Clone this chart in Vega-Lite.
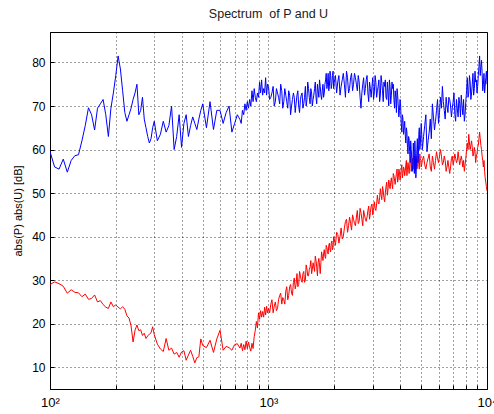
{
"$schema": "https://vega.github.io/schema/vega-lite/v6.json",
"width": 437, "height": 357,
"autosize": {"type": "none"},
"padding": {"left": 50, "top": 32, "right": 7, "bottom": 25},
"background": "white",
"title": {"text": "Spectrum\u00a0 of P and U", "fontSize": 12.5, "fontWeight": "normal", "color": "#1a1a1a", "font": "Liberation Sans", "offset": 12, "anchor": "middle"},
"config": {
 "view": {"stroke": "#000000", "strokeWidth": 1},
 "font": "Liberation Sans",
 "axis": {"domainColor": "#000000", "tickColor": "#000000", "labelColor": "#000000", "labelFont": "Liberation Sans", "labelFontSize": 12, "titleFont": "Liberation Sans", "titleFontSize": 11, "titleFontWeight": "normal", "titleColor": "#000000", "grid": true, "gridColor": "#000000", "gridOpacity": 0.75, "gridDash": [1, 3], "gridWidth": 1, "tickSize": -4, "labelPadding": 9}
},
"data": {"values": [
{"f":100,"P":59.5,"U":29},{"f":105,"P":56,"U":29.6},{"f":110,"P":55.5,"U":29.2},{"f":115,"P":57.8,"U":28.6},{"f":120,"P":54.8,"U":27},
{"f":125,"P":57.5,"U":27.8},{"f":130,"P":58.6,"U":27.2},{"f":135,"P":58.8,"U":27.1},{"f":140,"P":62,"U":26.2},{"f":145,"P":65.5,"U":26.8},
{"f":150,"P":69.6,"U":25.6},{"f":155,"P":68,"U":25.8},{"f":160,"P":64.5,"U":26.6},{"f":165,"P":69.5,"U":25},{"f":170,"P":70.5,"U":25.3},
{"f":175,"P":71.5,"U":24.4},{"f":180,"P":68,"U":23.8},{"f":185,"P":63,"U":23.5},{"f":190,"P":69.5,"U":25},{"f":195,"P":73,"U":23.9},
{"f":200,"P":77,"U":24.3},{"f":205,"P":81.5,"U":23.8},{"f":210,"P":78.5,"U":23.4},{"f":215,"P":73.5,"U":23.9},{"f":220,"P":68.5,"U":23.3},
{"f":225,"P":66.5,"U":21.8},{"f":230,"P":68,"U":21.3},{"f":235,"P":69.5,"U":19.5},{"f":240,"P":71.5,"U":15.8},{"f":245,"P":73,"U":18.5},
{"f":250,"P":75,"U":19.7},{"f":255,"P":68,"U":18.4},{"f":260,"P":69,"U":18.6},{"f":265,"P":72,"U":17.3},{"f":270,"P":67,"U":17.8},
{"f":275,"P":65,"U":16.6},{"f":280,"P":63,"U":17.2},{"f":285,"P":61.5,"U":17.6},{"f":290,"P":62.5,"U":17.9},{"f":295,"P":65,"U":19.3},
{"f":300,"P":66.5,"U":17.5},{"f":310,"P":62,"U":15.3},{"f":320,"P":63.5,"U":14.2},{"f":330,"P":66.5,"U":13.6},{"f":340,"P":64,"U":16.6},
{"f":350,"P":65.5,"U":13.9},{"f":360,"P":70,"U":14.4},{"f":370,"P":60,"U":13},{"f":380,"P":63,"U":13.4},{"f":390,"P":68,"U":12.3},
{"f":400,"P":60.5,"U":13.5},{"f":410,"P":66,"U":13.8},{"f":420,"P":68,"U":11.6},{"f":430,"P":63,"U":12.8},{"f":440,"P":65.5,"U":13.9},
{"f":450,"P":67.5,"U":12.5},{"f":460,"P":66,"U":11},{"f":470,"P":64.6,"U":12.2},{"f":480,"P":67,"U":12.4},{"f":490,"P":69,"U":16.5},
{"f":500,"P":70.5,"U":15},{"f":520,"P":65,"U":14.5},{"f":540,"P":71,"U":16.2},{"f":560,"P":64.6,"U":13.4},{"f":580,"P":69,"U":16.5},
{"f":600,"P":69,"U":18.5},{"f":620,"P":66,"U":13.9},{"f":640,"P":68.5,"U":14.8},{"f":660,"P":70,"U":14.5},{"f":680,"P":64,"U":13.9},
{"f":700,"P":66,"U":15.2},{"f":720,"P":68,"U":15.4},{"f":740,"P":66.9,"U":14.4},
{"f":750,"P":66,"U":15.5},{"f":760,"P":69,"U":13.8},{"f":770,"P":68,"U":15.2},{"f":780,"P":70.5,"U":14},{"f":790,"P":69,"U":16},
{"f":800,"P":71,"U":14.3},{"f":810,"P":69.5,"U":15.8},{"f":820,"P":71.5,"U":14.5},{"f":830,"P":70,"U":13.7},{"f":840,"P":73.5,"U":15.5},
{"f":850,"P":71,"U":14.3},{"f":860,"P":74,"U":17},{"f":870,"P":72,"U":18.5},{"f":880,"P":71,"U":20.5},{"f":890,"P":73,"U":19},
{"f":900,"P":72,"U":22.5},{"f":910,"P":75.5,"U":21},{"f":920,"P":73,"U":23},{"f":930,"P":76,"U":21.5},{"f":940,"P":72.5,"U":22.8},
{"f":950,"P":74,"U":21.5},{"f":960,"P":73,"U":23.8},{"f":970,"P":76.5,"U":22},{"f":980,"P":72.5,"U":24},{"f":990,"P":75,"U":22.5},
{"f":1000,"P":74.5,"U":23.5},
{"f":1025,"P":72,"U":24.5},{"f":1050,"P":74.5,"U":22.5},{"f":1075,"P":71,"U":25},{"f":1100,"P":73,"U":23.5},{"f":1125,"P":70.5,"U":26.5},
{"f":1150,"P":73.5,"U":24.5},{"f":1175,"P":71,"U":25.5},{"f":1200,"P":72.5,"U":27.5},{"f":1225,"P":69.5,"U":25.5},{"f":1250,"P":72.5,"U":28.5},
{"f":1275,"P":70,"U":27},{"f":1300,"P":73,"U":29.5},{"f":1325,"P":68.5,"U":28},{"f":1350,"P":72.5,"U":31.5},{"f":1375,"P":70,"U":29},
{"f":1400,"P":71.5,"U":31},{"f":1425,"P":73,"U":29.5},{"f":1450,"P":70.5,"U":32},{"f":1475,"P":74.5,"U":30},{"f":1500,"P":71.5,"U":32.5},
{"f":1525,"P":74,"U":31},{"f":1550,"P":70.5,"U":33},{"f":1575,"P":73,"U":31.5},{"f":1600,"P":71.5,"U":34},{"f":1625,"P":74,"U":32},
{"f":1650,"P":72,"U":34.5},{"f":1675,"P":75,"U":31},{"f":1700,"P":72,"U":35},{"f":1725,"P":74.5,"U":31.5},{"f":1750,"P":71.5,"U":36.5},
{"f":1775,"P":75,"U":34.5},{"f":1800,"P":73,"U":37},{"f":1825,"P":76,"U":35},{"f":1850,"P":74,"U":37.5},{"f":1875,"P":77.5,"U":36},
{"f":1900,"P":74.5,"U":38.5},{"f":1925,"P":77,"U":36.5},{"f":1950,"P":75,"U":39},{"f":1975,"P":78,"U":37.5},{"f":2000,"P":75.5,"U":39.5},
{"f":2050,"P":73,"U":41},{"f":2100,"P":77,"U":38.5},{"f":2150,"P":74.5,"U":42},{"f":2200,"P":77.5,"U":40},{"f":2250,"P":72,"U":43.5},
{"f":2300,"P":76.5,"U":41},{"f":2350,"P":74,"U":44.5},{"f":2400,"P":77.5,"U":41.5},{"f":2450,"P":75,"U":44},{"f":2500,"P":76.5,"U":42.5},
{"f":2550,"P":73.5,"U":46},{"f":2600,"P":75.5,"U":43.5},{"f":2650,"P":69.5,"U":45.5},{"f":2700,"P":75,"U":42.5},{"f":2750,"P":72.5,"U":45},
{"f":2800,"P":76,"U":43.5},{"f":2850,"P":73,"U":46},{"f":2900,"P":75.5,"U":44},{"f":2950,"P":72,"U":47},{"f":3000,"P":76.5,"U":45},
{"f":3050,"P":73,"U":48},{"f":3100,"P":75.5,"U":46},{"f":3150,"P":73.5,"U":49.5},{"f":3200,"P":76,"U":47.5},{"f":3250,"P":72.5,"U":51},
{"f":3300,"P":75.5,"U":48.5},{"f":3350,"P":71,"U":50.5},{"f":3400,"P":74.5,"U":48},{"f":3450,"P":72,"U":51.5},{"f":3500,"P":75.5,"U":49.5},
{"f":3550,"P":70,"U":53},{"f":3600,"P":74.5,"U":51},{"f":3650,"P":72.5,"U":53.5},{"f":3700,"P":74,"U":51},{"f":3750,"P":71.5,"U":54},
{"f":3800,"P":73.5,"U":52},{"f":3850,"P":68.5,"U":54.5},{"f":3900,"P":72.5,"U":52.5},{"f":3950,"P":67.5,"U":55.5},{"f":4000,"P":71.5,"U":53},
{"f":4050,"P":66,"U":55.5},{"f":4100,"P":68,"U":53.5},{"f":4150,"P":63.5,"U":56},{"f":4200,"P":66.5,"U":54},{"f":4250,"P":61.5,"U":56.5},
{"f":4300,"P":64,"U":54},{"f":4350,"P":59,"U":57},{"f":4400,"P":62.5,"U":54.5},{"f":4450,"P":57,"U":57.5},{"f":4500,"P":60,"U":55},
{"f":4550,"P":55,"U":58},{"f":4600,"P":61.5,"U":55.5},{"f":4650,"P":54.5,"U":57.5},{"f":4700,"P":59,"U":55},{"f":4750,"P":56,"U":58},
{"f":4800,"P":62.5,"U":56},{"f":4850,"P":58,"U":58.5},{"f":4900,"P":65,"U":55.5},{"f":4950,"P":61,"U":58},{"f":5000,"P":66,"U":56},
{"f":5125,"P":63,"U":58.5},{"f":5250,"P":68,"U":55.5},{"f":5375,"P":62,"U":58},{"f":5500,"P":67,"U":56},{"f":5625,"P":70.5,"U":58.5},
{"f":5750,"P":64.5,"U":55.5},{"f":5875,"P":69,"U":59.5},{"f":6000,"P":66,"U":57},{"f":6125,"P":72,"U":60},{"f":6250,"P":74.5,"U":56.5},
{"f":6375,"P":69,"U":58.5},{"f":6500,"P":72,"U":55},{"f":6625,"P":68.5,"U":57.5},{"f":6750,"P":71.5,"U":54.5},{"f":6875,"P":67.5,"U":58},
{"f":7000,"P":71,"U":56.5},{"f":7125,"P":68,"U":59},{"f":7250,"P":71.5,"U":57},{"f":7375,"P":67.5,"U":59.5},{"f":7500,"P":70.5,"U":56.5},
{"f":7625,"P":72.5,"U":58.5},{"f":7750,"P":68,"U":56},{"f":7875,"P":66.5,"U":55},{"f":8000,"P":71,"U":58},{"f":8125,"P":76.5,"U":61.5},
{"f":8250,"P":73,"U":63.5},{"f":8375,"P":75.5,"U":60},{"f":8500,"P":73,"U":62},{"f":8625,"P":77.5,"U":58.5},{"f":8750,"P":74,"U":60.5},
{"f":8875,"P":75.5,"U":57},{"f":9000,"P":73,"U":59},{"f":9125,"P":77,"U":61},{"f":9250,"P":81.5,"U":64},{"f":9375,"P":79,"U":61},
{"f":9500,"P":77.5,"U":58.5},{"f":9625,"P":75,"U":56},{"f":9750,"P":73,"U":55},{"f":9875,"P":76.5,"U":52.5},{"f":10000,"P":75,"U":50.5},
{"f":1012,"P":71.5,"U":22.5},{"f":1037,"P":73,"U":25.5},{"f":1062,"P":70,"U":24},{"f":1087,"P":74,"U":23},{"f":1112,"P":72,"U":25.5},
{"f":1137,"P":75,"U":27},{"f":1162,"P":69.5,"U":26},{"f":1187,"P":74,"U":24.5},{"f":1212,"P":71,"U":28.5},{"f":1237,"P":73.5,"U":26.5},
{"f":1262,"P":68,"U":29},{"f":1287,"P":71.5,"U":26.5},{"f":1312,"P":72,"U":30.5},{"f":1337,"P":70.5,"U":29},{"f":1362,"P":73.5,"U":28.5},
{"f":1387,"P":68.5,"U":32},{"f":1412,"P":72.5,"U":30},{"f":1437,"P":69.5,"U":31.5},{"f":1462,"P":72,"U":29.5},{"f":1487,"P":70,"U":33.5},
{"f":1512,"P":75.5,"U":31},{"f":1537,"P":72,"U":32.5},{"f":1562,"P":74,"U":34.5},{"f":1587,"P":70,"U":32.5},{"f":1612,"P":72.5,"U":33},
{"f":1637,"P":75.5,"U":35.5},{"f":1662,"P":70.5,"U":33},{"f":1687,"P":73.5,"U":34},{"f":1712,"P":76,"U":33.5},{"f":1737,"P":72.5,"U":34},
{"f":1762,"P":73.5,"U":35.5},{"f":1787,"P":72,"U":36},{"f":1812,"P":75,"U":35.5},{"f":1837,"P":77.5,"U":38},{"f":1862,"P":75,"U":36.5},
{"f":1887,"P":73.5,"U":38},{"f":1912,"P":78,"U":37},{"f":1937,"P":74,"U":38.5},{"f":1962,"P":77,"U":37},{"f":1987,"P":74,"U":40},
{"f":2025,"P":77,"U":38},{"f":2075,"P":75.5,"U":40.5},{"f":2125,"P":72.5,"U":40},{"f":2175,"P":76,"U":39.5},{"f":2225,"P":75,"U":42},
{"f":2275,"P":78,"U":44},{"f":2325,"P":73,"U":42.5},{"f":2375,"P":76.5,"U":43},{"f":2425,"P":73.5,"U":45},{"f":2475,"P":77.5,"U":43},
{"f":2525,"P":75,"U":44.5},{"f":2575,"P":77,"U":43},{"f":2625,"P":72,"U":46.5},{"f":2675,"P":73,"U":44},{"f":2725,"P":76.5,"U":46},
{"f":2775,"P":74,"U":44},{"f":2825,"P":77,"U":44.5},{"f":2875,"P":71,"U":47},{"f":2925,"P":74,"U":45.5},{"f":2975,"P":74.5,"U":47.5},
{"f":3025,"P":71.5,"U":46},{"f":3075,"P":77,"U":46.5},{"f":3125,"P":72,"U":47.5},{"f":3175,"P":74.5,"U":48},{"f":3225,"P":71,"U":49},
{"f":3275,"P":77,"U":49.5},{"f":3325,"P":73.5,"U":51.5},{"f":3375,"P":75.5,"U":49},{"f":3425,"P":76,"U":50},{"f":3475,"P":71.5,"U":52.5},
{"f":3525,"P":73,"U":51},{"f":3575,"P":76,"U":52},{"f":3625,"P":70.5,"U":52.5},{"f":3675,"P":75.5,"U":52},{"f":3725,"P":75,"U":54.5},
{"f":3775,"P":69.5,"U":53},{"f":3825,"P":72,"U":53.5},{"f":3875,"P":74,"U":55.5},{"f":3925,"P":70,"U":53.5},{"f":3975,"P":69,"U":55},
{"f":4025,"P":70,"U":54},{"f":4075,"P":64,"U":56.5},{"f":4125,"P":67,"U":54.5},{"f":4175,"P":65,"U":55.5},{"f":4225,"P":63.5,"U":55},
{"f":4275,"P":65,"U":57.5},{"f":4325,"P":60.5,"U":55.5},{"f":4375,"P":63,"U":56},{"f":4425,"P":59.5,"U":56},{"f":4475,"P":62,"U":58.5},
{"f":4525,"P":58,"U":56.5},{"f":4575,"P":56.5,"U":57},{"f":4625,"P":58.5,"U":58.5},{"f":4675,"P":62,"U":56},{"f":4725,"P":53.5,"U":58.5},
{"f":4775,"P":60,"U":55.5},{"f":4825,"P":57,"U":57.5},{"f":4875,"P":63.5,"U":56.5},{"f":4925,"P":60,"U":59},{"f":4975,"P":63.5,"U":57.5},
{"f":5062,"P":60,"U":57.5},{"f":5187,"P":65.5,"U":56.5},{"f":5312,"P":59.5,"U":57},{"f":5437,"P":64,"U":59},{"f":5562,"P":62.5,"U":55},
{"f":5687,"P":67.5,"U":57},{"f":5812,"P":66.5,"U":57.5},{"f":5937,"P":71.5,"U":58},{"f":6062,"P":68.5,"U":58.5},{"f":6187,"P":69.5,"U":58.5},
{"f":6312,"P":71,"U":57},{"f":6437,"P":67,"U":57.5},{"f":6562,"P":70,"U":56},{"f":6687,"P":72,"U":56},{"f":6812,"P":70,"U":56},
{"f":6937,"P":69.5,"U":58.5},{"f":7062,"P":73,"U":57.5},{"f":7187,"P":66.5,"U":58},{"f":7312,"P":69.5,"U":57.5},{"f":7437,"P":72,"U":58},
{"f":7562,"P":67.5,"U":57.5},{"f":7687,"P":70,"U":57.5},{"f":7812,"P":71.5,"U":57.5},{"f":7937,"P":68,"U":56.5},{"f":8062,"P":73.5,"U":60},
{"f":8187,"P":72,"U":60},{"f":8312,"P":77,"U":61.5},{"f":8437,"P":71.5,"U":61},{"f":8562,"P":75,"U":60.5},{"f":8687,"P":72.5,"U":59},
{"f":8812,"P":78,"U":59.5},{"f":8937,"P":76,"U":58.5},{"f":9062,"P":74.5,"U":60.5},{"f":9187,"P":79,"U":62.5},{"f":9312,"P":77,"U":62.5},
{"f":9437,"P":80.5,"U":60},{"f":9562,"P":73.5,"U":57.5},{"f":9687,"P":77.5,"U":57.5},{"f":9812,"P":74.5,"U":53.5},{"f":9937,"P":78,"U":51.5}
]},
"encoding": {
 "x": {"field": "f", "type": "quantitative", "scale": {"type": "log", "domain": [100, 10000], "nice": false},
  "axis": {"title": null, "values": [100,200,300,400,500,600,700,800,900,1000,2000,3000,4000,5000,6000,7000,8000,9000,10000],
   "labelExpr": "datum.value == 100 ? '10²' : datum.value == 1000 ? '10³' : datum.value == 10000 ? '10⁴' : ''",
   "labelFontSize": 13, "labelPadding": 11, "labelFlush": false, "labelOverlap": false}}
},
"layer": [
 {"mark": {"type": "line", "color": "#ff0000", "strokeWidth": 1, "clip": true},
  "encoding": {"y": {"field": "U", "type": "quantitative", "scale": {"domain": [5, 87], "nice": false, "zero": false},
   "axis": {"title": "abs(P) abs(U) [dB]", "values": [10,20,30,40,50,60,70,80], "titlePadding": 8}}}},
 {"mark": {"type": "line", "color": "#0000ff", "strokeWidth": 1, "clip": true},
  "encoding": {"y": {"field": "P", "type": "quantitative", "axis": {"title": "abs(P) abs(U) [dB]", "values": [10,20,30,40,50,60,70,80], "titlePadding": 8}}}}
]
}
